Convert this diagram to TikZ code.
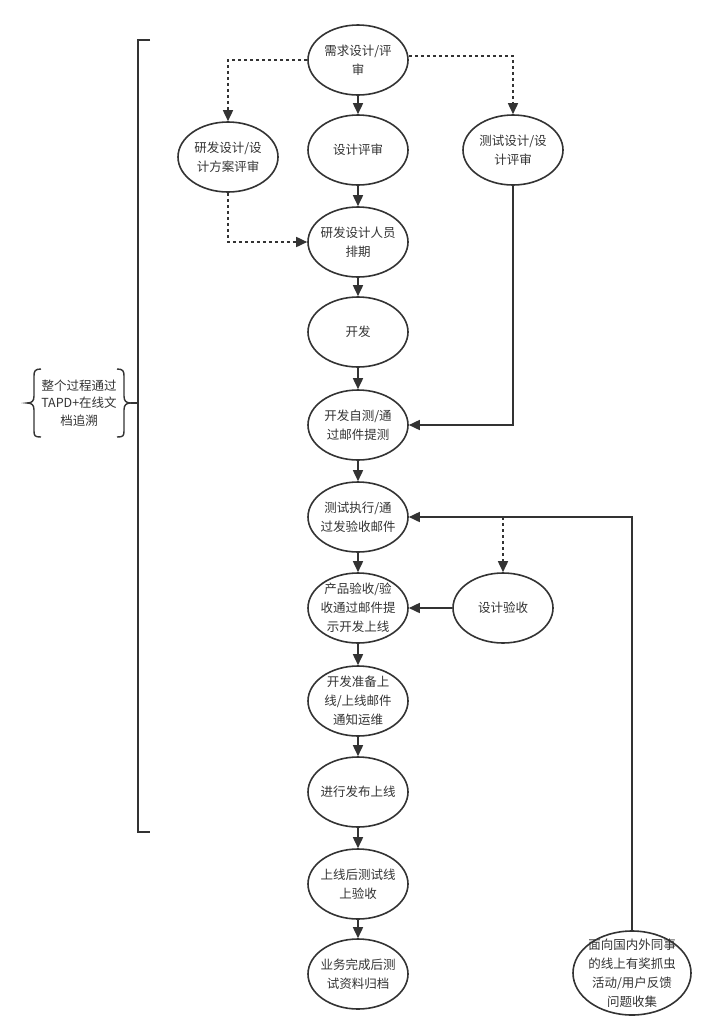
\documentclass[tikz,border=0pt]{standalone}
\usepackage{fontspec}
\newfontfamily\cjk{Noto Sans CJK SC}
\usetikzlibrary{shapes.geometric,arrows.meta}
\definecolor{ink}{HTML}{333333}
\tikzset{
  st/.style={ellipse, draw=ink, line width=1.6pt, minimum width=100pt, minimum height=70pt, inner sep=0pt, fill=white},
  lab/.style={align=center, text=ink, font=\cjk\fontsize{12.5}{19}\selectfont, inner sep=0pt},
  conn/.style={draw=ink, line width=1.6pt, -{Triangle[length=11pt,width=10pt]}},
  dotconn/.style={conn, dash pattern=on 3pt off 3pt},
  plain/.style={draw=ink, line width=1.6pt},
}
\begin{document}
\begin{tikzpicture}[x=1pt,y=-1pt]
\useasboundingbox (0,0) rectangle (713,1034);
% main column
\node[st, label={[lab]center:需求设计/评\\审}] (req) at (358,60) {};
\node[st, label={[lab]center:设计评审}] (drev) at (358,150) {};
\node[st, label={[lab]center:研发设计/设\\计方案评审}] (rd) at (228,157) {};
\node[st, label={[lab]center:测试设计/设\\计评审}] (td) at (513,150) {};
\node[st, label={[lab]center:研发设计人员\\排期}] (sched) at (358,242) {};
\node[st, label={[lab]center:开发}] (dev) at (358,332) {};
\node[st, label={[lab]center:开发自测/通\\过邮件提测}] (self) at (358,425) {};
\node[st, label={[lab]center:测试执行/通\\过发验收邮件}] (exec) at (358,517) {};
\node[st, label={[lab]center:产品验收/验\\收通过邮件提\\示开发上线}] (pacc) at (358,608) {};
\node[st, label={[lab]center:设计验收}] (dacc) at (503,608) {};
\node[st, label={[lab]center:开发准备上\\线/上线邮件\\通知运维}] (prep) at (358,701) {};
\node[st, label={[lab]center:进行发布上线}] (rel) at (358,792) {};
\node[st, label={[lab]center:上线后测试线\\上验收}] (post) at (358,884) {};
\node[st, label={[lab]center:业务完成后测\\试资料归档}] (arch) at (358,974) {};
\node[st, minimum width=118pt, minimum height=84pt, label={[lab]center:面向国内外同事\\的线上有奖抓虫\\活动/用户反馈\\问题收集}] (fb) at (632,973) {};

% connectors
\draw[dotconn] (req.west) -| (rd.north);
\draw[dotconn] ([yshift=4pt]req.east) -| (td.north);
\draw[conn] (req) -- (drev);
\draw[conn] (drev) -- (sched);
\draw[dotconn] (rd.south) |- (sched.west);
\draw[conn] (sched) -- (dev);
\draw[conn] (dev) -- (self);
\draw[conn] (td.south) |- (self.east);
\draw[conn] (self) -- (exec);
\draw[conn] (fb.north) |- (exec.east);
\coordinate (tap) at (dacc.north |- exec.east);
\draw[dotconn] (tap) -- (dacc.north);
\draw[conn] (exec) -- (pacc);
\draw[conn] (dacc.west) -- (pacc.east);
\draw[conn] (pacc) -- (prep);
\draw[conn] (prep) -- (rel);
\draw[conn] (rel) -- (post);
\draw[conn] (post) -- (arch);

% bracket
\coordinate (bt) at (150,40);
\coordinate (bb) at (150,832);
\draw[plain] (bt) -- (138,40) -- (138,832) -- (bb);

% brace note
\node[lab, font=\cjk\fontsize{12.5}{17.5}\selectfont] (note) at (79,403) {整个过程通过\\TAPD+在线文\\档追溯};
\draw[plain, line width=1.4pt] (41,369) .. controls (35,369) and (34,371) .. (34,376) -- (34,396) .. controls (34,401) and (32,403) .. (27,403) .. controls (32,403) and (34,405) .. (34,410) -- (34,431) .. controls (34,436) and (35,437) .. (41,437);
\draw[plain, line width=1.4pt] (117,369) .. controls (123,369) and (124,371) .. (124,376) -- (124,396) .. controls (124,401) and (126,403) .. (131,403) .. controls (126,403) and (124,405) .. (124,410) -- (124,431) .. controls (124,436) and (123,437) .. (117,437);
\draw[plain, line width=1.4pt] (131,403) -- (138,403);
\end{tikzpicture}
\end{document}
